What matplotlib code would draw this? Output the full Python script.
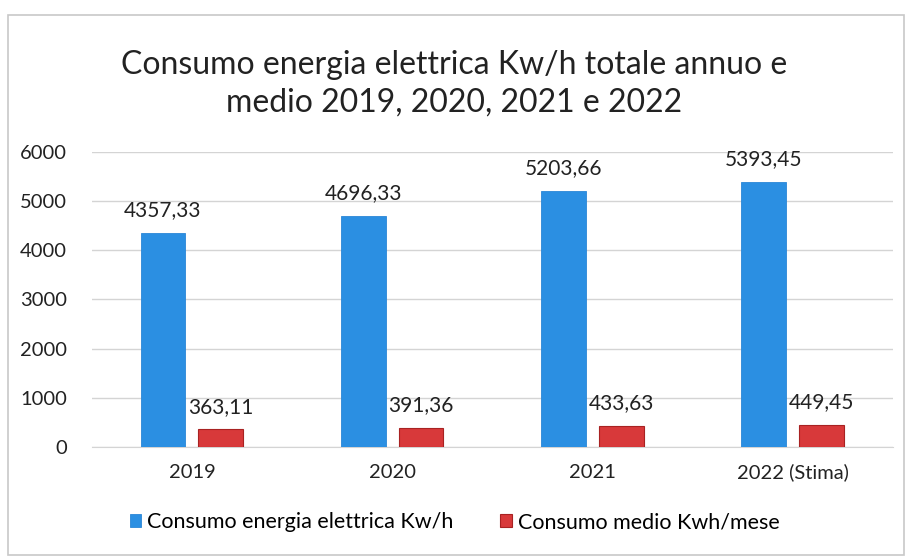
import matplotlib
matplotlib.use("Agg")
import matplotlib.pyplot as plt
import numpy as np
from matplotlib.patches import Rectangle

plt.rcParams['font.family'] = ['Lato', 'DejaVu Sans']

# data
categories = ['2019', '2020', '2021', '2022 (Stima)']
totale = [4357.33, 4696.33, 5203.66, 5393.45]
medio = [363.11, 391.36, 433.63, 449.45]
series_names = ['Consumo energia elettrica Kw/h', 'Consumo medio Kwh/mese']
title = 'Consumo energia elettrica Kw/h totale annuo e\nmedio 2019, 2020, 2021 e 2022'

blue = '#2b8fe2'
red = '#d8393a'

fig = plt.figure(figsize=(9.09, 5.58), dpi=100)
ax = fig.add_axes([0.101, 0.199, 0.881, 0.529])

# outer chart frame
fig.patches.append(Rectangle((0.009, 0.006), 0.985, 0.968, transform=fig.transFigure,
                             fill=False, edgecolor='#c8c8c8', lw=1.2))

x = np.arange(len(categories))
w = 0.224
gap = 0.065
b1 = ax.bar(x - (w + gap) / 2, totale, w, color=blue, edgecolor='#2a86d6', lw=0.6,
            label=series_names[0], zorder=3)
b2 = ax.bar(x + (w + gap) / 2, medio, w, color=red, edgecolor='#a82222', lw=0.8,
            label=series_names[1], zorder=3)

fmt = lambda v: f"{v:.2f}".replace('.', ',')
ax.bar_label(b1, labels=[fmt(v) for v in totale], padding=9, fontsize=15, color='#222222')
ax.bar_label(b2, labels=[fmt(v) for v in medio], padding=9, fontsize=15, color='#222222')

ax.set_xlim(-0.5, 3.5)
ax.set_ylim(0, 6000)
ax.set_yticks(range(0, 6001, 1000))
ax.set_xticks(x)
ax.set_xticklabels(categories)
ax.tick_params(axis='both', length=0, labelsize=14.5, colors='#222222')
ax.tick_params(axis='x', pad=12)
ax.tick_params(axis='y', pad=18)
ax.grid(axis='y', color='#d4d4d4', lw=1, zorder=0)
for s in ['top', 'right', 'left']:
    ax.spines[s].set_visible(False)
ax.spines['bottom'].set_color('#d4d4d4')

fig.text(0.5, 0.85, title, ha='center', va='center', fontsize=23,
         color='#222222', linespacing=1.3)

fig.legend(handles=[b1, b2], loc='center', bbox_to_anchor=(0.5, 0.064), ncol=2,
           frameon=False, fontsize=15.5, handlelength=0.55, handleheight=0.55,
           handletextpad=0.25, columnspacing=2.2)

fig.savefig('out.png', dpi=100)
